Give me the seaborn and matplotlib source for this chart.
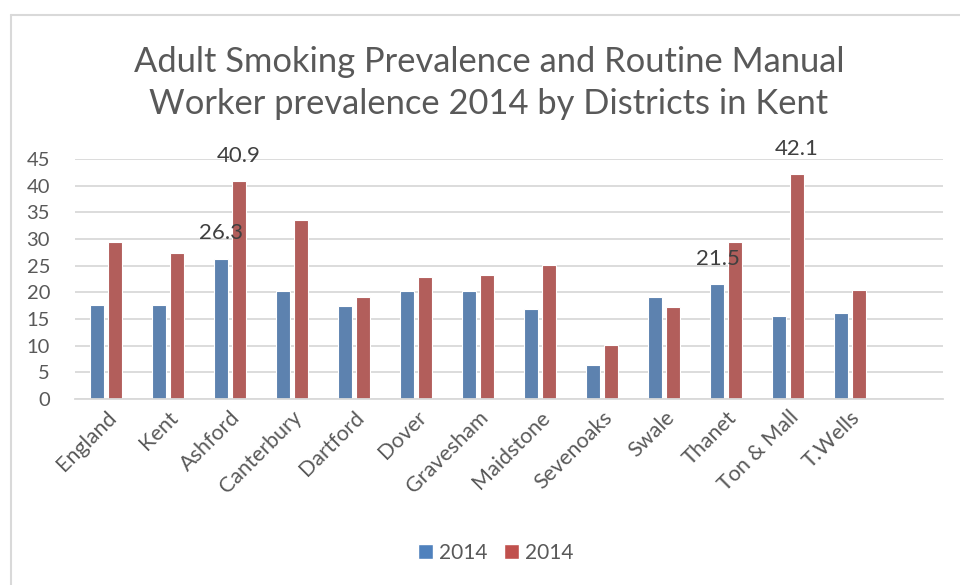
import matplotlib
matplotlib.use("Agg")
import matplotlib.pyplot as plt
import matplotlib.lines as mlines
import matplotlib.patches as mpatches
import seaborn as sns
import pandas as pd

districts = ["England", "Kent", "Ashford", "Canterbury", "Dartford", "Dover",
             "Gravesham", "Maidstone", "Sevenoaks", "Swale", "Thanet",
             "Ton & Mall", "T.Wells"]
smoking_2014 = [17.6, 17.6, 26.3, 20.3, 17.4, 20.3, 20.3, 16.9, 6.3, 19.1, 21.5, 15.5, 16.2]
routine_manual_2014 = [29.4, 27.3, 40.9, 33.5, 19.1, 22.9, 23.2, 25.1, 10.1, 17.2, 29.4, 42.1, 20.5]
series_names = ["Adult smoking", "Routine manual"]
legend_labels = ["2014", "2014"]
labelled = {"Adult smoking": ["Ashford", "Thanet"], "Routine manual": ["Ashford", "Ton & Mall"]}
yticks = [0, 5, 10, 15, 20, 25, 30, 35, 40, 45]

df = pd.DataFrame({
    "District": districts * 2,
    "Series": [series_names[0]] * len(districts) + [series_names[1]] * len(districts),
    "Value": smoking_2014 + routine_manual_2014,
})

sns.set_theme(style="white")
plt.rcParams["font.family"] = ["Lato", "DejaVu Sans"]
text_col = "#595959"
grid_col = "#D9D9D9"
colors = ["#4F81BD", "#C0504D"]

fig = plt.figure(figsize=(9.6, 5.85), dpi=100)
ax = fig.add_axes([75 / 960, 1 - 399 / 585, (943 - 75) / 960, (399 - 159) / 585])

sns.barplot(data=df, x="District", y="Value", hue="Series", order=districts,
            hue_order=series_names, palette=colors, width=0.55, gap=0.18,
            edgecolor="white", linewidth=0.8, ax=ax, legend=False, errorbar=None)

ax.set_xlim(-0.5, len(districts) + 0.5)
ax.set_ylim(0, 45)
ax.set_yticks(yticks)
ax.yaxis.grid(True, color=grid_col, linewidth=1.3)
ax.set_axisbelow(True)
for s in ["top", "right", "left"]:
    ax.spines[s].set_visible(False)
ax.spines["bottom"].set_color(grid_col)
ax.spines["bottom"].set_linewidth(1.3)
ax.set_xlabel("")
ax.set_ylabel("")
ax.tick_params(axis="both", length=0, colors=text_col)
ax.tick_params(axis="y", pad=18, labelsize=14.5)
ax.tick_params(axis="x", pad=6, labelsize=15.5)
plt.setp(ax.get_xticklabels(), rotation=45, ha="right", rotation_mode="anchor")

for cont, name in zip(ax.containers, series_names):
    vals = smoking_2014 if name == series_names[0] else routine_manual_2014
    labs = [f"{v:.1f}" if d in labelled[name] else "" for d, v in zip(districts, vals)]
    ax.bar_label(cont, labels=labs, padding=11, fontsize=16, color="#404040")

fig.suptitle("Adult Smoking Prevalence and Routine Manual\nWorker prevalence 2014 by Districts in Kent",
             x=489 / 960, y=1 - 46 / 585, fontsize=24.8, color=text_col, linespacing=1.38)

handles = [mpatches.Patch(facecolor=c, edgecolor="white") for c in colors]
fig.legend(handles, legend_labels, loc="center", bbox_to_anchor=(496 / 960, 1 - 553 / 585),
           ncol=2, frameon=False, fontsize=15, labelcolor=text_col,
           handlelength=0.7, handleheight=0.7, handletextpad=0.3, columnspacing=0.8)

fig.add_artist(mlines.Line2D([11 / 960, 11 / 960], [0, 1 - 15 / 585], color=grid_col,
                             linewidth=1.5, transform=fig.transFigure))
fig.add_artist(mlines.Line2D([11 / 960, 1], [1 - 15 / 585, 1 - 15 / 585], color=grid_col,
                             linewidth=1.5, transform=fig.transFigure))

fig.savefig("out.png", dpi=100, facecolor="white")
